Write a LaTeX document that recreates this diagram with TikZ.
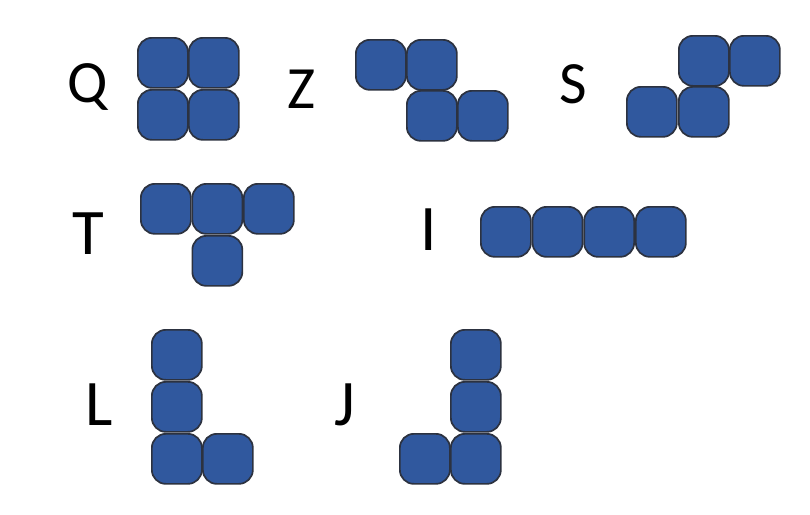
\documentclass[tikz,border=0pt]{standalone}
\usepackage{fontspec}
\setmainfont{Carlito}
\definecolor{cellfill}{RGB}{48,88,158}
\definecolor{celledge}{RGB}{44,50,64}
\tikzset{
  cell/.style={draw=celledge, fill=cellfill, line width=1.7pt, rounded corners=14pt,
    minimum width=50pt, minimum height=50pt, inner sep=0pt, anchor=north west},
  lblA/.style={font=\fontsize{60}{60}\selectfont, inner sep=0pt, anchor=base},
  lblB/.style={font=\fontsize{65}{65}\selectfont, inner sep=0pt, anchor=base}
}
\begin{document}
\begin{tikzpicture}[x=1pt,y=-1pt]
\useasboundingbox[fill=white] (0,0) rectangle (810,514);
% Q
\node[lblA] (lq) at (87.5,102) {Q};
\node[cell] (q1) at (137,37) {};
\node[cell] (q2) at (188,37) {};
\node[cell] (q3) at (137,89) {};
\node[cell] (q4) at (188,89) {};
% Z
\node[lblA] (lz) at (301.5,108) {Z};
\node[cell] (z1) at (355,39) {};
\node[cell] (z2) at (406,39) {};
\node[cell] (z3) at (406,90) {};
\node[cell] (z4) at (457,90) {};
% S
\node[lblA] (ls) at (573.5,103) {S};
\node[cell] (s1) at (678,35) {};
\node[cell] (s2) at (729,35) {};
\node[cell] (s3) at (626,86) {};
\node[cell] (s4) at (678,86) {};
% T
\node[lblB] (lt) at (88.5,254) {T};
\node[cell] (t1) at (140,183) {};
\node[cell] (t2) at (191.5,183) {};
\node[cell] (t3) at (243,183) {};
\node[cell] (t4) at (191.5,235) {};
% I
\node[lblB] (li) at (428.5,250) {I};
\node[cell] (i1) at (480,206) {};
\node[cell] (i2) at (531.7,206) {};
\node[cell] (i3) at (583.3,206) {};
\node[cell] (i4) at (635,206) {};
% L
\node[lblB] (ll) at (99,425) {L};
\node[cell] (l1) at (151,329) {};
\node[cell] (l2) at (151,381) {};
\node[cell] (l3) at (151,433) {};
\node[cell] (l4) at (202,433) {};
% J
\node[lblB] (lj) at (345,425) {J};
\node[cell] (j1) at (450,329) {};
\node[cell] (j2) at (450,381) {};
\node[cell] (j3) at (450,433) {};
\node[cell] (j4) at (399,433) {};
\end{tikzpicture}
\end{document}
